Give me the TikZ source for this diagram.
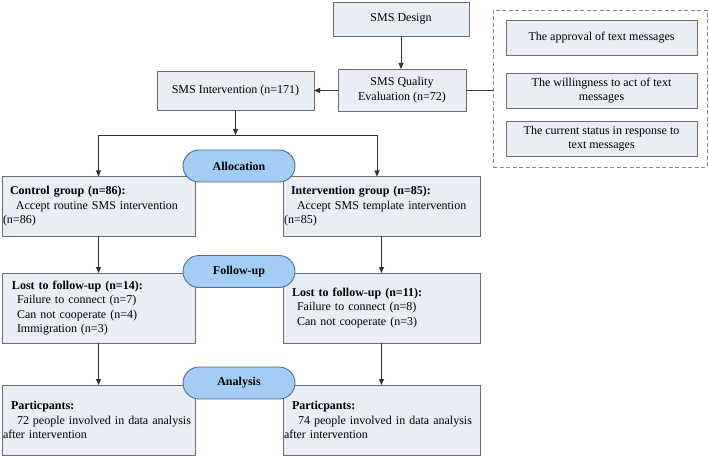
\documentclass[tikz,border=0pt]{standalone}
\usepackage{fontspec}
\setmainfont{Liberation Serif}
\usetikzlibrary{arrows.meta,shapes.misc}
\definecolor{boxfill}{HTML}{E8EDF6}
\definecolor{boxline}{HTML}{6E6E6E}
\definecolor{capfill}{HTML}{A3CDF4}
\definecolor{capline}{HTML}{4E6E8E}
\definecolor{arr}{HTML}{333333}
\definecolor{dashc}{HTML}{8A8A8A}
\begin{document}
\begin{tikzpicture}[x=1pt,y=-1pt,
  every node/.style={font=\fontsize{12}{14.5}\selectfont},
  box/.style={draw=boxline, fill=boxfill, line width=0.9pt, inner sep=0pt, outer sep=0pt, align=center},
  lbox/.style={box, inner xsep=1pt, align=left},
  capsule/.style={draw=capline, fill=capfill, line width=0.9pt, rounded rectangle, minimum width=112pt, minimum height=32pt, inner sep=0pt, font=\fontsize{12}{14.5}\selectfont\bfseries},
  arrow/.style={draw=arr, line width=0.8pt, -{Triangle[length=6pt,width=5pt]}},
  link/.style={draw=arr, line width=0.8pt},
  grp/.style={draw=dashc, line width=0.9pt, dash pattern=on 4pt off 2.5pt, inner sep=0pt}
]
\useasboundingbox (0,0) rectangle (709,457);

% top part
\node[box, minimum width=136pt, minimum height=34pt] (design) at (401,19) {SMS Design};
\node[box, minimum width=128pt, minimum height=42pt] (quality) at (402,90) {SMS Quality\\Evaluation (n=72)};
\node[box, minimum width=157pt, minimum height=39pt] (interv) at (235.5,90.5) {SMS Intervention (n=171)};

% dashed group
\node[grp, minimum width=214pt, minimum height=157pt] (group) at (600,88.5) {};
\node[box, minimum width=191pt, minimum height=35pt] (g1) at (601.5,37.5) {The approval of text messages};
\node[box, minimum width=191pt, minimum height=35pt] (g2) at (601.5,90.5) {The willingness to act of text\\messages};
\node[box, minimum width=191pt, minimum height=35pt] (g3) at (601.5,138.5) {The current status in response to\\text messages};

% groups
\node[lbox, minimum width=193pt, minimum height=59.5pt, text width=191pt] (control) at (98.5,206.25)
  {\hspace*{7pt}\textbf{Control group (n=86):}\\\hspace*{13pt}Accept routine SMS intervention\\(n=86)};
\node[lbox, minimum width=197pt, minimum height=59.5pt, text width=195pt] (intgrp) at (381.5,206.25)
  {\hspace*{7pt}\textbf{Intervention group (n=85):}\\\hspace*{13pt}Accept SMS template intervention\\(n=85)};

\node[lbox, minimum width=193pt, minimum height=70pt, text width=191pt] (lostL) at (98.5,308)
  {\hspace*{9pt}\textbf{Lost to follow-up (n=14):}\\\hspace*{14pt}Failure to connect (n=7)\\\hspace*{14pt}Can not cooperate (n=4)\\\hspace*{14pt}Immigration (n=3)};
\node[lbox, minimum width=197pt, minimum height=70pt, text width=195pt] (lostR) at (381.5,308)
  {\hspace*{8pt}\textbf{Lost to follow-up (n=11):}\\\hspace*{13pt}Failure to connect (n=8)\\\hspace*{13pt}Can not cooperate (n=3)};

\node[lbox, minimum width=193pt, minimum height=70pt, text width=191pt] (partL) at (98.5,420)
  {\hspace*{8pt}\textbf{Particpants:}\\\hspace*{14pt}72 people involved in data analysis\\after intervention};
\node[lbox, minimum width=197pt, minimum height=70pt, text width=195pt] (partR) at (381.5,420)
  {\hspace*{8pt}\textbf{Particpants:}\\\hspace*{14pt}74 people involved in data analysis\\after intervention};

% capsules
\node[capsule] (alloc) at (239,166) {Allocation};
\node[capsule] (follow) at (239,271.5) {Follow-up};
\node[capsule] (analysis) at (239,383) {Analysis};

% connectors
\draw[arrow] (design.south) -- (design.south |- quality.north);
\draw[arrow] (quality.west |- interv.east) -- (interv.east);
\draw[link] (quality.east) -- (quality.east -| group.west);
\coordinate (split) at (235.5,135);
\coordinate (jl) at (98.5,135);
\coordinate (jr) at (377,135);
\draw[arrow] (interv.south) -- (split);
\draw[link] (jl) -- (jr);
\draw[arrow] (jl) -- (jl |- control.north);
\draw[arrow] (jr) -- (jr |- intgrp.north);
\draw[arrow] (control.south) -- (lostL.north);
\draw[arrow] (intgrp.south) -- (lostR.north);
\draw[arrow] (lostL.south) -- (partL.north);
\draw[arrow] (lostR.south) -- (partR.north);
\end{tikzpicture}
\end{document}
